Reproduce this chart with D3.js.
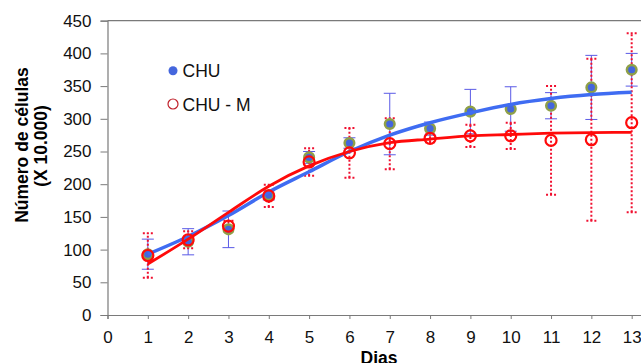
<!DOCTYPE html>
<html>
<head>
<meta charset="utf-8">
<script src="https://cdn.jsdelivr.net/npm/d3@7"></script>
<style>
  body { margin: 0; background: #fff; }
  svg { display: block; font-family: "Liberation Sans", Arial, sans-serif; }
</style>
</head>
<body>
<script>
const days = [1, 2, 3, 4, 5, 6, 7, 8, 9, 10, 11, 12, 13]
const seriesNames = ["CHU", "CHU - M"]

// CHU: means, error (+/-) and fitted curve
const chu = [93, 112, 131, 183, 241, 263, 292, 285, 311, 315, 320, 348, 375]
const chuErr = [23, 20, 28, 7, 9, 8, 47, 10, 34, 34, 20, 49, 25]
const chuFit = [93, 120, 152, 188, 219, 250, 275, 294, 309, 322, 331, 337, 340.5]

// CHU - M
const chuM = [91, 115, 136, 182, 234, 248, 262, 270, 274, 274, 267, 268, 294]
const chuMErr = [34, 13, 8, 17, 21, 38, 39, 6, 17, 20, 83, 124, 137]
const chuMFit = [78, 116, 157, 197, 228, 250, 263.5, 269, 274, 276, 278, 279, 279.3]

const yTicks = [0, 50, 100, 150, 200, 250, 300, 350, 400, 450]
const xTicks = [0, 1, 2, 3, 4, 5, 6, 7, 8, 9, 10, 11, 12, 13, 14]

const width = 641
const height = 363

const x = d3.scaleLinear().domain([0, 14]).range([107.5, 672])
const y = d3.scaleLinear().domain([0, 450]).range([315, 20.7])

const svg = d3.select("body").append("svg")
    .attr("width", width)
    .attr("height", height)

// frame top line
svg.append("line")
    .attr("x1", x(0)).attr("x2", x(14))
    .attr("y1", y(450)).attr("y2", y(450))
    .attr("stroke", "#7a7a7a").attr("stroke-width", 1.2)

const yAxis = svg.append("g")
    .attr("transform", `translate(${x(0)},0)`)
    .call(d3.axisLeft(y).tickValues(yTicks).tickSize(7).tickPadding(9))
yAxis.select(".domain").attr("stroke", "#7a7a7a").attr("stroke-width", 1.2)
yAxis.selectAll(".tick line").attr("stroke", "#7a7a7a")
yAxis.selectAll("text").attr("font-size", 17).attr("fill", "#111")

const xAxis = svg.append("g")
    .attr("transform", `translate(0,${y(0)})`)
    .call(d3.axisBottom(x).tickValues(xTicks).tickSize(4).tickPadding(12))
xAxis.select(".domain").attr("stroke", "#7a7a7a").attr("stroke-width", 1.2)
xAxis.selectAll(".tick line").attr("stroke", "#7a7a7a")
xAxis.selectAll("text").attr("font-size", 17).attr("fill", "#111")

// axis titles
svg.append("text")
    .attr("transform", "translate(28,145) rotate(-90)")
    .attr("text-anchor", "middle")
    .attr("font-size", 17.5).attr("font-weight", "bold")
    .text("Número de células")
svg.append("text")
    .attr("transform", "translate(47,146) rotate(-90)")
    .attr("text-anchor", "middle")
    .attr("font-size", 17.5).attr("font-weight", "bold")
    .text("(X 10.000)")
svg.append("text")
    .attr("x", 379).attr("y", 364)
    .attr("text-anchor", "middle")
    .attr("font-size", 17.5).attr("font-weight", "bold")
    .text("Dias")

const line = d3.line()
    .x((d, i) => x(days[i]))
    .y(d => y(d))
    .curve(d3.curveMonotoneX)

// blue error bars (solid, thin)
const blueErr = svg.append("g").attr("stroke", "#5a5ae6").attr("stroke-width", 1)
days.forEach((d, i) => {
    const cx = x(d)
    blueErr.append("line").attr("x1", cx).attr("x2", cx)
        .attr("y1", y(chu[i] - chuErr[i])).attr("y2", y(chu[i] + chuErr[i]))
    ;[chu[i] - chuErr[i], chu[i] + chuErr[i]].forEach(v => {
        blueErr.append("line").attr("x1", cx - 6).attr("x2", cx + 6)
            .attr("y1", y(v)).attr("y2", y(v))
    })
})

// red error bars (dotted)
const redErr = svg.append("g").attr("stroke", "#f01030").attr("stroke-width", 2)
    .attr("stroke-dasharray", "2,2")
days.forEach((d, i) => {
    const cx = x(d)
    redErr.append("line").attr("x1", cx).attr("x2", cx)
        .attr("y1", y(chuM[i] - chuMErr[i])).attr("y2", y(chuM[i] + chuMErr[i]))
    ;[chuM[i] - chuMErr[i], chuM[i] + chuMErr[i]].forEach(v => {
        redErr.append("line").attr("x1", cx - 5).attr("x2", cx + 5)
            .attr("y1", y(v)).attr("y2", y(v))
    })
})

// blue markers
svg.append("g").selectAll("circle")
    .data(chu)
    .enter()
    .append("circle")
    .attr("cx", (d, i) => x(days[i]))
    .attr("cy", d => y(d))
    .attr("r", 4.8)
    .attr("fill", "#4466dd")
    .attr("stroke", "#8fa048")
    .attr("stroke-width", 2.5)

// fitted curves
svg.append("path")
    .datum(chuFit)
    .attr("d", line)
    .attr("fill", "none")
    .attr("stroke", "#3f6cf2")
    .attr("stroke-width", 3.5)

svg.append("path")
    .datum(chuMFit)
    .attr("d", line)
    .attr("fill", "none")
    .attr("stroke", "#ff0a0a")
    .attr("stroke-width", 2.8)

// red markers
svg.append("g").selectAll("circle")
    .data(chuM)
    .enter()
    .append("circle")
    .attr("cx", (d, i) => x(days[i]))
    .attr("cy", d => y(d))
    .attr("r", 5.5)
    .attr("fill", "none")
    .attr("stroke", "#ff0a0a")
    .attr("stroke-width", 2.2)

// legend
const legend = svg.append("g")
legend.append("circle").attr("cx", 173).attr("cy", 70.7).attr("r", 4.5).attr("fill", "#4466dd")
legend.append("circle").attr("cx", 173).attr("cy", 104).attr("r", 5)
    .attr("fill", "none").attr("stroke", "#c0202a").attr("stroke-width", 1.2)
seriesNames.forEach((name, i) => {
    legend.append("text")
        .attr("x", 182.5).attr("y", [70.7, 104][i] + 6.5)
        .attr("font-size", 17.5)
        .attr("fill", "#111")
        .text(name)
})
</script>
</body>
</html>
